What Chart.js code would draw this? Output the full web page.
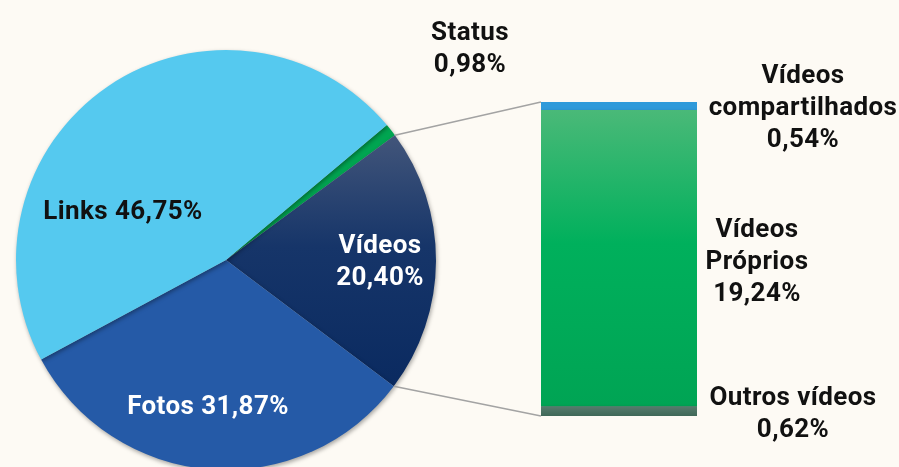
<!DOCTYPE html>
<html>
<head>
<meta charset="utf-8">
<script src="https://cdn.jsdelivr.net/npm/chart.js@4"></script>
<style>
  html, body { margin: 0; padding: 0; background: #fdfaf4; }
  #wrap { position: relative; width: 899px; height: 467px; overflow: hidden; background: #fdfaf4; }
  #wrap canvas { position: absolute; left: 0; top: 0; }
</style>
</head>
<body>
<div id="wrap">
  <canvas id="pie" width="899" height="480"></canvas>
  <canvas id="bar" width="899" height="480"></canvas>
</div>
<script>
// dados do gráfico
const pieLabels = ['Status', 'Vídeos', 'Fotos', 'Links'];
const pieValues = [0.98, 20.40, 31.87, 46.75];
const barLabels = ['Outros vídeos', 'Vídeos Próprios', 'Vídeos compartilhados'];
const barValues = [0.62, 19.24, 0.54];

const FONT = 'bold 26px Roboto';

function fmt(v) {
  return v.toFixed(2).replace('.', ',') + '%';
}

// sombra leve nas fatias / na barra
const shadowPlugin = {
  id: 'shadow',
  beforeDatasetsDraw(chart) {
    const ctx = chart.ctx;
    ctx.save();
    ctx.shadowColor = 'rgba(0,0,0,0.35)';
    ctx.shadowBlur = 4;
    ctx.shadowOffsetX = 1;
    ctx.shadowOffsetY = 2;
  },
  afterDatasetsDraw(chart) {
    chart.ctx.restore();
  }
};

function pieColor(context) {
  const ctx = context.chart.ctx;
  switch (context.dataIndex) {
    case 0: return '#00a551';
    case 1: {
      const g = ctx.createLinearGradient(0, 130, 0, 390);
      g.addColorStop(0, '#44577b');
      g.addColorStop(0.45, '#163569');
      g.addColorStop(1, '#0a2a60');
      return g;
    }
    case 2: return '#255aa7';
    default: return '#55c9ef';
  }
}

const pieChart = new Chart(document.getElementById('pie'), {
  type: 'pie',
  data: {
    labels: pieLabels,
    datasets: [{
      data: pieValues,
      backgroundColor: pieColor,
      borderWidth: 0
    }]
  },
  options: {
    responsive: false,
    animation: false,
    rotation: 50,
    layout: { padding: { left: 16, right: 463, top: 50, bottom: 10 } },
    plugins: { legend: { display: false }, tooltip: { enabled: false } }
  },
  plugins: [shadowPlugin]
});

function barColor(i) {
  return (context) => {
    const ctx = context.chart.ctx;
    if (i === 0) {
      const g = ctx.createLinearGradient(0, 407, 0, 416);
      g.addColorStop(0, '#557a6c');
      g.addColorStop(1, '#3f6858');
      return g;
    }
    if (i === 1) {
      const g = ctx.createLinearGradient(0, 110, 0, 407);
      g.addColorStop(0, '#4ab978');
      g.addColorStop(0.45, '#00b05c');
      g.addColorStop(1, '#00a454');
      return g;
    }
    return '#2f9ada';
  };
}

// linhas de ligação e rótulos
const labelPlugin = {
  id: 'labels',
  beforeDatasetsDraw(chart) {
    const ctx = chart.ctx;
    const arc = pieChart.getDatasetMeta(0).data[1];
    const top = chart.getDatasetMeta(2).data[0];
    const bottom = chart.getDatasetMeta(0).data[0];
    const left = top.x - top.width / 2;
    ctx.save();
    ctx.strokeStyle = '#a3a3a3';
    ctx.lineWidth = 1.5;
    ctx.beginPath();
    ctx.moveTo(arc.x + arc.outerRadius * Math.cos(arc.startAngle), arc.y + arc.outerRadius * Math.sin(arc.startAngle));
    ctx.lineTo(left, top.y);
    ctx.moveTo(arc.x + arc.outerRadius * Math.cos(arc.endAngle), arc.y + arc.outerRadius * Math.sin(arc.endAngle));
    ctx.lineTo(left, bottom.base);
    ctx.stroke();
    ctx.restore();
  },
  afterDraw(chart) {
    const ctx = chart.ctx;
    const blocks = [
      { lines: [pieLabels[0], fmt(pieValues[0])], x: 470, y: 40, color: '#111' },
      { lines: [pieLabels[3] + ' ' + fmt(pieValues[3])], x: 123, y: 219, color: '#111' },
      { lines: [pieLabels[2] + ' ' + fmt(pieValues[2])], x: 208, y: 414, color: '#fff' },
      { lines: [pieLabels[1], fmt(pieValues[1])], x: 380, y: 253, color: '#fff' },
      { lines: ['Vídeos', 'compartilhados', fmt(barValues[2])], x: 803, y: 83, color: '#111' },
      { lines: ['Vídeos', 'Próprios', fmt(barValues[1])], x: 757, y: 237, color: '#111' },
      { lines: [barLabels[0], fmt(barValues[0])], x: 793, y: 405, color: '#111' }
    ];
    ctx.save();
    ctx.font = FONT;
    ctx.letterSpacing = '0.4px';
    ctx.textAlign = 'center';
    ctx.textBaseline = 'alphabetic';
    blocks.forEach((b) => {
      ctx.fillStyle = b.color;
      b.lines.forEach((t, i) => ctx.fillText(t, b.x, b.y + i * 32));
    });
    ctx.restore();
  }
};

new Chart(document.getElementById('bar'), {
  type: 'bar',
  data: {
    labels: ['Vídeos'],
    datasets: barLabels.map((name, i) => ({
      label: name,
      data: [barValues[i]],
      backgroundColor: barColor(i),
      borderWidth: 0,
      barPercentage: 1,
      categoryPercentage: 1
    }))
  },
  options: {
    responsive: false,
    animation: false,
    layout: { padding: { left: 541, right: 202, top: 102, bottom: 64 } },
    scales: {
      x: { stacked: true, display: false },
      y: { stacked: true, display: false, min: 0, max: barValues.reduce((a, b) => a + b, 0) }
    },
    plugins: { legend: { display: false }, tooltip: { enabled: false } }
  },
  plugins: [labelPlugin, shadowPlugin]
});
</script>
</body>
</html>
